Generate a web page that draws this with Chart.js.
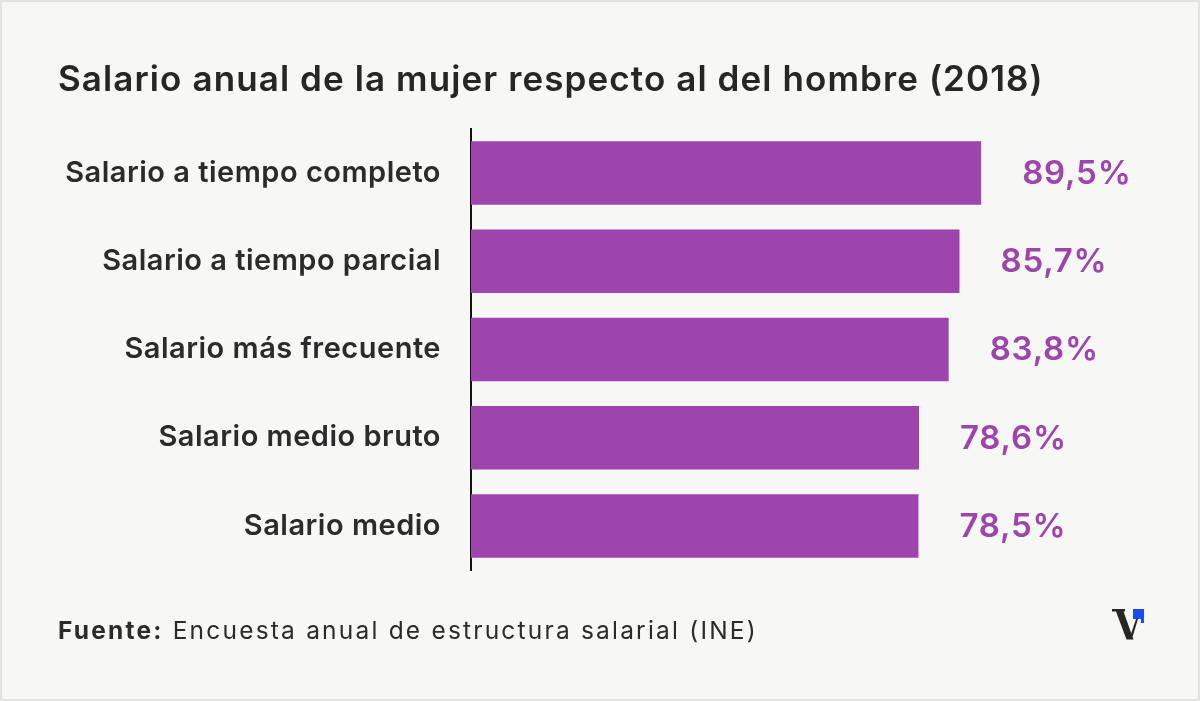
<!DOCTYPE html>
<html>
<head>
<meta charset="utf-8">
<script src="https://cdn.jsdelivr.net/npm/chart.js@4"></script>
<style>
  html, body { margin: 0; padding: 0; }
  body { width: 1200px; height: 701px; background: #f7f7f5; position: relative; overflow: hidden; font-family: Inter, "Open Sans", sans-serif; }
  #frame { position: absolute; left: 0; top: 0; width: 1196px; height: 697px; border: 2px solid #e3e3e3; }
  #title { position: absolute; left: 58px; top: 58px; line-height: 40px; font-size: 35px; font-weight: 600; color: #262626; letter-spacing: 1.1px; white-space: nowrap; }
  #source { position: absolute; left: 58px; top: 615px; line-height: 30px; font-size: 24.5px; color: #2b2b2b; letter-spacing: 2.2px; white-space: nowrap; }
  #source b { font-weight: 700; }
  #logo { position: absolute; left: 1110px; top: 605px; }
  #wrap { position: absolute; left: 0; top: 0; width: 1200px; height: 701px; }
</style>
</head>
<body>
<div id="frame"></div>
<div id="wrap"><canvas id="chart"></canvas></div>
<div id="title">Salario anual de la mujer respecto al del hombre (2018)</div>
<div id="source"><b>Fuente:</b> Encuesta anual de estructura salarial (INE)</div>
<svg id="logo" width="40" height="40" viewBox="0 0 40 40">
  <polygon points="2,4 15,4 15,6.5 13.5,6.5 23.5,34.5 16.5,34.5 6,6.5 2,6.5" fill="#262626"/>
  <polygon points="21,29 26,14 28,14 22.5,32" fill="#262626"/>
  <polygon points="23,4 34,4 34,18 31,18 31,14 23,14" fill="#1a4bf0"/>
</svg>
<script>
const categories = ['Salario a tiempo completo', 'Salario a tiempo parcial', 'Salario más frecuente', 'Salario medio bruto', 'Salario medio'];
const values = [89.5, 85.7, 83.8, 78.6, 78.5];
const valueLabels = ['89,5%', '85,7%', '83,8%', '78,6%', '78,5%'];

const barColor = '#9d45ac';

// wider tracking for the canvas text, closer to the original typeface
const spacingPlugin = {
  id: 'spacing',
  beforeDraw(chart){ chart.ctx.letterSpacing = '0.5px'; }
};

const valuePlugin = {
  id: 'valueLabels',
  afterDatasetsDraw(chart){
    const ctx = chart.ctx;
    const meta = chart.getDatasetMeta(0);
    ctx.save();
    ctx.letterSpacing = '0.8px';
    ctx.font = '600 33px Inter, "Open Sans", sans-serif';
    ctx.fillStyle = barColor;
    ctx.textAlign = 'left';
    ctx.textBaseline = 'middle';
    meta.data.forEach((bar, i) => {
      ctx.fillText(valueLabels[i], bar.x + 41, bar.y + 1);
    });
    ctx.restore();
  }
};

new Chart(document.getElementById('chart'), {
  type: 'bar',
  data: {
    labels: categories,
    datasets: [{ data: values, backgroundColor: barColor, categoryPercentage: 1, barPercentage: 0.72 }]
  },
  options: {
    indexAxis: 'y',
    responsive: true,
    maintainAspectRatio: false,
    animation: false,
    layout: { padding: { left: 0, right: 45, top: 129, bottom: 131 } },
    plugins: { legend: { display: false }, tooltip: { enabled: false } },
    scales: {
      x: { display: false, min: 0, max: 120 },
      y: {
        grid: { display: false, drawTicks: false },
        border: { display: true, color: '#111', width: 2 },
        ticks: { padding: 30, color: '#2b2b2b', font: { family: 'Inter, "Open Sans", sans-serif', size: 29, weight: '600' } },
        afterFit(scale){ scale.width = 471; }
      }
    }
  },
  plugins: [spacingPlugin, valuePlugin]
});
</script>
</body>
</html>
